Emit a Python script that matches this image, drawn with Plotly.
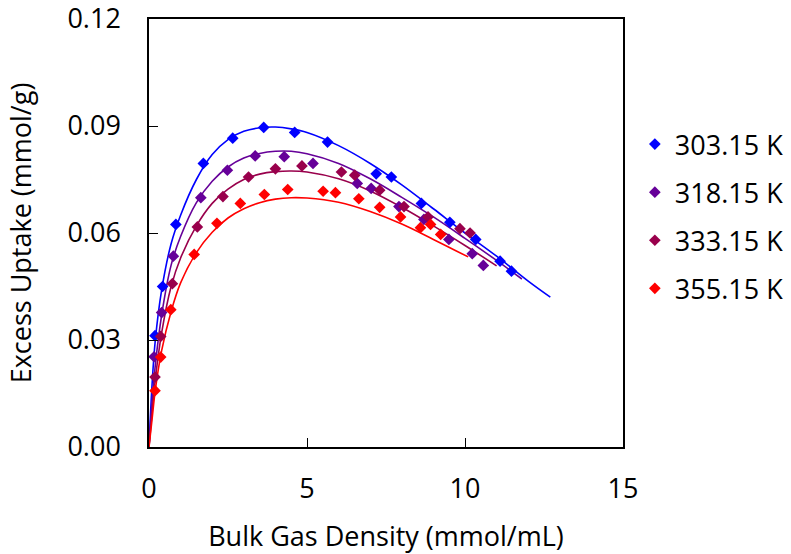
import plotly.graph_objects as go

# ---- measured data (markers) ----
x_303 = [0.19, 0.43, 0.85, 1.72, 2.65, 3.63, 4.61, 5.65, 7.19, 7.67, 8.62, 9.52, 10.34, 11.11, 11.47]
y_303 = [0.0312, 0.045, 0.0624, 0.0795, 0.0866, 0.0896, 0.0882, 0.0855, 0.0766, 0.0757, 0.0683, 0.063, 0.0582, 0.0521, 0.0493]

x_318 = [0.16, 0.40, 0.77, 1.64, 2.48, 3.36, 4.28, 5.19, 6.59, 7.03, 7.91, 8.70, 9.49, 10.23, 10.58]
y_318 = [0.0253, 0.0377, 0.0535, 0.0699, 0.0776, 0.0816, 0.0814, 0.0795, 0.0739, 0.0725, 0.0674, 0.0638, 0.0582, 0.0542, 0.0509]

x_333 = [0.19, 0.37, 0.74, 1.53, 2.34, 3.15, 4.00, 4.84, 6.09, 6.51, 7.30, 8.07, 8.83, 9.84, 10.16]
y_333 = [0.0196, 0.031, 0.0458, 0.0617, 0.0702, 0.0757, 0.078, 0.0788, 0.0771, 0.0762, 0.072, 0.0674, 0.0645, 0.0612, 0.060]

x_355 = [0.19, 0.37, 0.69, 1.43, 2.15, 2.89, 3.65, 4.39, 5.51, 5.90, 6.64, 7.30, 7.96, 8.59, 8.91, 9.23]
y_355 = [0.0158, 0.0252, 0.0385, 0.054, 0.0627, 0.0683, 0.0708, 0.0722, 0.0717, 0.0713, 0.0696, 0.0672, 0.0645, 0.0615, 0.0624, 0.0596]

# ---- fitted curves ----
fx_303 = [0, 0.1, 0.2, 0.4, 0.7, 1.0, 1.5, 2.0, 2.5, 3.0, 3.5, 4.0, 4.5, 5.0, 6.0, 7.0, 8.0, 9.0, 10.0, 11.0, 12.0, 12.7]
fy_303 = [0, 0.018, 0.030, 0.044, 0.057, 0.065, 0.075, 0.082, 0.0862, 0.0885, 0.0895, 0.0897, 0.0892, 0.0882, 0.0845, 0.0795, 0.0735, 0.0668, 0.0600, 0.0535, 0.0465, 0.0420]

fx_318 = [0, 0.1, 0.2, 0.4, 0.7, 1.0, 1.5, 2.0, 2.5, 3.0, 3.5, 4.0, 4.5, 5.0, 6.0, 7.0, 8.0, 9.0, 10.0, 11.0, 11.8]
fy_318 = [0, 0.013, 0.023, 0.037, 0.051, 0.059, 0.0685, 0.0745, 0.0785, 0.081, 0.0823, 0.0829, 0.0829, 0.0822, 0.0795, 0.0752, 0.0700, 0.0645, 0.0585, 0.0523, 0.0471]

fx_333 = [0, 0.1, 0.2, 0.4, 0.7, 1.0, 1.5, 2.0, 2.5, 3.0, 3.5, 4.0, 4.5, 5.0, 6.0, 7.0, 8.0, 9.0, 10.0, 11.0]
fy_333 = [0, 0.010, 0.019, 0.032, 0.045, 0.053, 0.062, 0.0683, 0.0723, 0.0750, 0.0765, 0.0772, 0.0774, 0.0771, 0.0752, 0.0718, 0.0672, 0.0620, 0.0565, 0.0508]

fx_355 = [0, 0.1, 0.2, 0.4, 0.7, 1.0, 1.5, 2.0, 2.5, 3.0, 3.5, 4.0, 4.5, 5.0, 6.0, 7.0, 8.0, 9.0, 10.1]
fy_355 = [0, 0.008, 0.016, 0.027, 0.038, 0.046, 0.0545, 0.0602, 0.0642, 0.0668, 0.0685, 0.0695, 0.0699, 0.0698, 0.0686, 0.0660, 0.0625, 0.0582, 0.0533]

labels = ["303.15 K", "318.15 K", "333.15 K", "355.15 K"]
colors = ["#0000FF", "#660099", "#99004C", "#FF0000"]

series = [
    (x_303, y_303, fx_303, fy_303),
    (x_318, y_318, fx_318, fy_318),
    (x_333, y_333, fx_333, fy_333),
    (x_355, y_355, fx_355, fy_355),
]

FONT = "Open Sans"
FS = 27

fig = go.Figure()
for (xs, ys, fxs, fys), lab, col in zip(series, labels, colors):
    fig.add_trace(go.Scatter(x=fxs, y=fys, mode="lines", line=dict(color=col, width=1.6, shape="spline", smoothing=1.0),
                             showlegend=False, hoverinfo="skip"))
for (xs, ys, fxs, fys), lab, col in zip(series, labels, colors):
    fig.add_trace(go.Scatter(x=xs, y=ys, mode="markers", name=lab, legendgroup=lab,
                             marker=dict(symbol="diamond", size=9, color=col)))

axis_common = dict(showline=True, linecolor="black", linewidth=1.5, mirror=True,
                   ticks="inside", ticklen=9, tickwidth=1, tickcolor="black",
                   showgrid=False, zeroline=False, automargin=False, ticklabeloverflow="allow",
                   tickfont=dict(family=FONT, size=FS, color="black"))

fig.update_xaxes(range=[0, 15], dtick=5, tick0=0, ticklabelstandoff=17,
                 title=dict(text="Bulk Gas Density (mmol/mL)", font=dict(family=FONT, size=FS, color="black"), standoff=26),
                 **axis_common)
fig.update_yaxes(range=[0, 0.12], dtick=0.03, tick0=0, tickformat=".2f", ticklabelstandoff=21,
                 title=dict(text="Excess Uptake (mmol/g)", font=dict(family=FONT, size=FS, color="black"), standoff=28),
                 **axis_common)

fig.update_layout(
    width=791, height=554,
    margin=dict(l=149, r=168, t=19, b=107, autoexpand=False),
    paper_bgcolor="white", plot_bgcolor="white",
    font=dict(family=FONT, size=FS, color="black"),
    legend=dict(x=1.025, xanchor="left", y=0.764, yanchor="top", tracegroupgap=10,
                font=dict(family=FONT, size=FS, color="black"), bgcolor="rgba(0,0,0,0)"),
)

fig.write_html("out.html", config={"displayModeBar": False},
               post_script="document.body.style.margin='0';")
